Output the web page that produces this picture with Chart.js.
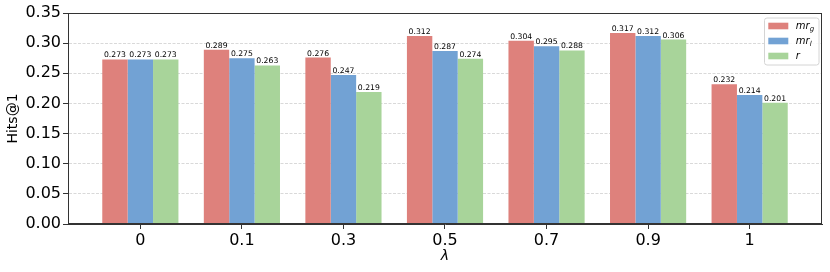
<!DOCTYPE html>
<html><head><meta charset="utf-8">
<script src="https://cdn.jsdelivr.net/npm/chart.js@4"></script>
<style>html,body{margin:0;padding:0;background:#fff}#wrap{width:830px;height:272px}</style>
</head><body><div id="wrap"><canvas id="c" width="830" height="272"></canvas></div>
<script>
const categories = ['0', '0.1', '0.3', '0.5', '0.7', '0.9', '1'];
const mrG = [0.273, 0.289, 0.276, 0.312, 0.304, 0.317, 0.232];
const mrL = [0.273, 0.275, 0.247, 0.287, 0.295, 0.312, 0.214];
const rVals = [0.273, 0.263, 0.219, 0.274, 0.288, 0.306, 0.201];
const seriesLabels = ['mr_g', 'mr_l', 'r'];
const yTicks = [0, 0.05, 0.10, 0.15, 0.20, 0.25, 0.30, 0.35];
const xTitle = 'λ';
const yTitle = 'Hits@1';

const seriesValues = [mrG, mrL, rVals];
const seriesColors = ['rgb(222,129,124)', 'rgb(114,162,212)', 'rgb(168,212,154)'];

Chart.defaults.font.family = "'DejaVu Sans', sans-serif";
Chart.defaults.color = '#000';

const frameAndLabels = {
  id: 'frameAndLabels',
  afterDatasetsDraw(chart) {
    const ctx = chart.ctx;
    const a = chart.chartArea;
    // value labels
    ctx.save();
    ctx.font = "7.7px 'DejaVu Sans'";
    ctx.fillStyle = '#000';
    ctx.textAlign = 'center';
    ctx.textBaseline = 'alphabetic';
    chart.data.datasets.forEach((ds, di) => {
      const meta = chart.getDatasetMeta(di);
      meta.data.forEach((el, i) => {
        ctx.fillText(seriesValues[di][i].toFixed(3), el.x, el.y - 2);
      });
    });
    ctx.restore();
    // frame
    ctx.save();
    ctx.strokeStyle = '#333';
    ctx.lineWidth = 1;
    const l = Math.round(a.left) + 0.5, t = Math.round(a.top) + 0.5;
    const r = Math.round(a.right) - 0.5, b = Math.round(a.bottom) - 0.5;
    ctx.strokeRect(l, t, r - l, b - t);
    ctx.restore();
    // legend
    ctx.save();
    const boxW = 54.5, boxH = 47;
    const bx = a.right - 3 - boxW, by = a.top + 5;
    ctx.beginPath();
    if (ctx.roundRect) ctx.roundRect(bx, by, boxW, boxH, 2.5); else ctx.rect(bx, by, boxW, boxH);
    ctx.fillStyle = 'rgba(255,255,255,0.85)';
    ctx.fill();
    ctx.strokeStyle = '#d4d4d4';
    ctx.lineWidth = 1;
    ctx.stroke();
    seriesLabels.forEach((lab, i) => {
      const cy = by + 8 + i * 15;
      ctx.fillStyle = seriesColors[i];
      ctx.fillRect(bx + 3.8, cy - 3.3, 20, 6.6);
      const parts = lab.split('_');
      ctx.fillStyle = '#000';
      ctx.textAlign = 'left';
      ctx.textBaseline = 'alphabetic';
      ctx.font = "italic 10px 'DejaVu Sans'";
      const tx = bx + 31.2;
      ctx.fillText(parts[0], tx, cy + 3);
      if (parts[1]) {
        const w = ctx.measureText(parts[0]).width;
        ctx.font = "italic 7px 'DejaVu Sans'";
        ctx.fillText(parts[1], tx + w + 0.3, cy + 5);
      }
    });
    ctx.restore();
  }
};

new Chart(document.getElementById('c'), {
  type: 'bar',
  data: {
    datasets: seriesLabels.map((lab, di) => ({
      label: lab,
      data: seriesValues[di].map((v, i) => ({ x: i, y: v })),
      backgroundColor: seriesColors[di],
      borderWidth: 0,
      categoryPercentage: 0.75,
      barPercentage: 1.0
    }))
  },
  options: {
    responsive: false,
    animation: false,
    devicePixelRatio: 1,
    layout: { padding: { left: 0, right: 8, top: 13, bottom: 0 } },
    plugins: { legend: { display: false }, tooltip: { enabled: false }, title: { display: false } },
    scales: {
      x: {
        type: 'linear',
        offset: false,
        min: -0.7125,
        max: categories.length - 1 + 0.7125,
        afterBuildTicks: (s) => { s.ticks = categories.map((_, i) => ({ value: i })); },
        afterFit: (s) => { s.height = 48; },
        ticks: {
          autoSkip: false, maxRotation: 0, padding: 2,
          font: { size: 16 }, color: '#000',
          callback: (v) => categories[Math.round(v)]
        },
        grid: { display: true, drawOnChartArea: false, drawTicks: true, tickLength: 5, tickColor: '#333', tickWidth: 1, offset: false },
        border: { display: true, color: '#333', width: 1 },
        title: { display: true, text: xTitle, font: { size: 14, style: 'italic' }, color: '#000', padding: { top: 0, bottom: 7 } }
      },
      y: {
        min: 0,
        max: 0.35,
        afterBuildTicks: (s) => { s.ticks = yTicks.map(v => ({ value: v })); },
        afterFit: (s) => { s.width = 68; },
        ticks: { padding: 2, font: { size: 16 }, color: '#000', callback: (v) => Number(v).toFixed(2) },
        grid: { color: '#cfcfcf', lineWidth: 0.8, drawTicks: true, tickLength: 5, tickColor: '#333', tickWidth: 1 },
        border: { display: true, color: '#333', width: 1, dash: [3, 1.5] },
        title: { display: true, text: yTitle, font: { size: 14 }, color: '#000', padding: { top: 5, bottom: 0 } }
      }
    }
  },
  plugins: [frameAndLabels]
});
</script>
</body></html>
